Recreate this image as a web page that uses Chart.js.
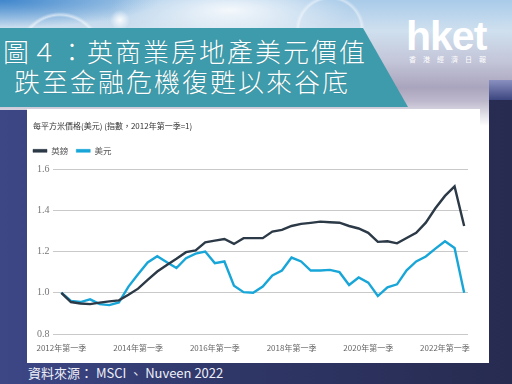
<!DOCTYPE html>
<html><head><meta charset="utf-8">
<script src="https://cdn.jsdelivr.net/npm/chart.js@4/dist/chart.umd.min.js"></script>
<style>
html,body{margin:0;padding:0;width:512px;height:384px;overflow:hidden;}
#stage{position:relative;width:512px;height:384px;overflow:hidden;
 background:linear-gradient(90deg,#3d4786 0%,#2f3768 45%,#272b50 100%);font-family:'Noto Sans CJK TC','Noto Sans',sans-serif;}
#sky{position:absolute;left:0;top:0;width:512px;height:88px;
 background:
  radial-gradient(circle at 60px 55px, rgba(255,255,255,0) 38px, rgba(255,255,255,0.55) 40px, rgba(255,255,255,0) 43px),
  radial-gradient(circle at 120px 20px, rgba(255,255,255,0.9) 0px, rgba(255,255,255,0) 10px),
  radial-gradient(circle at 330px 30px, rgba(255,255,255,0) 30px, rgba(255,255,255,0.45) 32px, rgba(255,255,255,0) 35px),
  radial-gradient(ellipse at 230px 10px, rgba(255,255,255,0.85) 0px, rgba(255,255,255,0) 120px),
  radial-gradient(ellipse at 0px 0px, #3f86cc 0px, rgba(90,150,210,0) 160px),
  linear-gradient(180deg,#a9cbe9 0%,#cfe0ef 35%,#c3c5d8 70%,#a9a4bd 100%);}
#skyR{position:absolute;left:489px;top:80px;width:23px;height:20px;background:linear-gradient(180deg,#8a90c0,#3c4680);}
#skyL{position:absolute;left:0;top:88px;width:489px;height:22px;background:linear-gradient(180deg,#aaa5bd 0%,#bdb8cc 60%,#d6d3e0 100%);}
#panel{position:absolute;left:27px;top:109px;width:462px;height:254px;background:#fff;}
#fade{position:absolute;left:480px;top:100px;width:9px;height:26px;background:linear-gradient(180deg,#b9b4c8,#ffffff);}
#banner{position:absolute;left:0;top:28px;width:410px;height:79px;background:#3d9bab;
 clip-path:polygon(0 0,363px 0,408px 79px,0 79px);}
.bt{position:absolute;color:#fff;font-size:26px;letter-spacing:2px;white-space:nowrap;line-height:30px;font-weight:300;text-shadow:0 0 1px rgba(0,0,0,0.2);}
#logo{position:absolute;left:406px;top:14px;color:#fff;font-family:'Liberation Sans',Arial,sans-serif;font-weight:bold;font-size:41px;letter-spacing:-1px;line-height:44px;}
#logosub{position:absolute;left:409px;top:55px;color:#fff;font-size:7px;letter-spacing:7px;line-height:9px;white-space:nowrap;}
#src{position:absolute;left:28px;top:364px;color:#eef0f8;font-size:13px;line-height:18px;white-space:nowrap;}
#cv{position:absolute;left:27px;top:109px;}
</style></head>
<body><div id="stage">
<div id="sky"></div><div id="skyR"></div><div id="skyL"></div>
<div id="panel"></div><div id="fade"></div>
<div id="banner"></div>
<div class="bt" style="left:3px;top:36px;">圖４：英商業房地產美元價值</div>
<div class="bt" style="left:14px;top:66px;">跌至金融危機復甦以來谷底</div>
<div id="logo">hket</div>
<div id="logosub">香港經濟日報</div>
<div id="src">資料來源： MSCI 、 Nuveen 2022</div>
<canvas id="cv" width="462" height="254"></canvas>
</div>
<script>
const years = [2012,2013,2014,2015,2016,2017,2018,2019,2020,2021,2022];
const quarterNames = ['第一季','第二季','第三季','第四季'];
const seriesNames = ['英鎊','美元'];
const chartTitle = '每平方米價格(美元) (指數，2012年第一季=1)';
const gbp = [1.00,0.955,0.948,0.945,0.952,0.958,0.963,0.99,1.02,1.063,1.103,1.135,1.165,1.197,1.206,
  1.245,1.253,1.261,1.237,1.265,1.265,1.265,1.297,1.305,1.324,1.334,1.339,1.345,1.342,1.340,
  1.324,1.312,1.291,1.247,1.25,1.24,1.266,1.291,1.34,1.41,1.47,1.516,1.324];
const usd = [1.00,0.96,0.955,0.968,0.945,0.94,0.953,1.03,1.09,1.147,1.177,1.148,1.12,1.168,1.19,
  1.2,1.144,1.152,1.034,1.003,1.0,1.03,1.084,1.108,1.171,1.152,1.108,1.108,1.111,1.10,
  1.038,1.074,1.049,0.984,1.026,1.041,1.109,1.152,1.176,1.214,1.25,1.217,1.0];
const yTicks = [0.8,1.0,1.2,1.4,1.6];

const quarterLabels = [];
years.forEach(y => quarterNames.forEach(q => quarterLabels.push(y + '年' + q)));
quarterLabels.length = gbp.length;

const legendShift = {
  id:'legendShift',
  afterLayout(chart){ const l = chart.legend; if(l){ l.left -= 8; l.right -= 8; l.top -= 4; l.bottom -= 4; } }
};

const toPts = arr => arr.map((v,i) => ({x:i, y:v}));
new Chart(document.getElementById('cv'), {
  type:'line',
  data:{ datasets:[
    {label:seriesNames[0], data:toPts(gbp), borderColor:'#2c3947', backgroundColor:'#2c3947', borderWidth:2.4, pointRadius:0, tension:0},
    {label:seriesNames[1], data:toPts(usd), borderColor:'#18a6d8', backgroundColor:'#18a6d8', borderWidth:2.4, pointRadius:0, tension:0}
  ]},
  options:{
    responsive:false, animation:false,
    layout:{padding:{left:6,right:21,top:0,bottom:0}},
    plugins:{
      title:{display:true,text:chartTitle,align:'start',color:'#333',
        font:{size:8,family:"'Noto Sans CJK TC',sans-serif",weight:'normal'},padding:{top:12,bottom:12}},
      legend:{align:'start',labels:{boxWidth:14,boxHeight:3,padding:8,color:'#555',
        font:{size:8.5,family:"'Noto Sans CJK TC',sans-serif"},
        generateLabels(chart){
          return Chart.defaults.plugins.legend.labels.generateLabels(chart).map(l => Object.assign(l,{lineWidth:0.5}));
        }}},
      tooltip:{enabled:false}
    },
    scales:{
      x:{type:'linear',min:-0.83,max:42.4,
        grid:{display:false,drawTicks:false},border:{display:false},
        ticks:{stepSize:8,includeBounds:false,autoSkip:false,maxRotation:0,padding:9,color:'#666',
          font:{size:8,family:"'Noto Sans CJK TC',sans-serif"},
          callback:v => quarterLabels[v]},
        afterFit:s => { s.height = 29; }},
      y:{min:yTicks[0],max:yTicks[yTicks.length-1],
        afterBuildTicks:s => { s.ticks = yTicks.map(v => ({value:v})); },
        grid:{color:'#c9c9c9',drawTicks:false,lineWidth:1},border:{display:false},
        ticks:{padding:4,color:'#777',font:{size:10,family:"'Liberation Serif',serif"},callback:v => v.toFixed(1)},
        afterFit:s => { s.width = 18; }}
    }
  },
  plugins:[legendShift]
});
</script>
</body></html>
